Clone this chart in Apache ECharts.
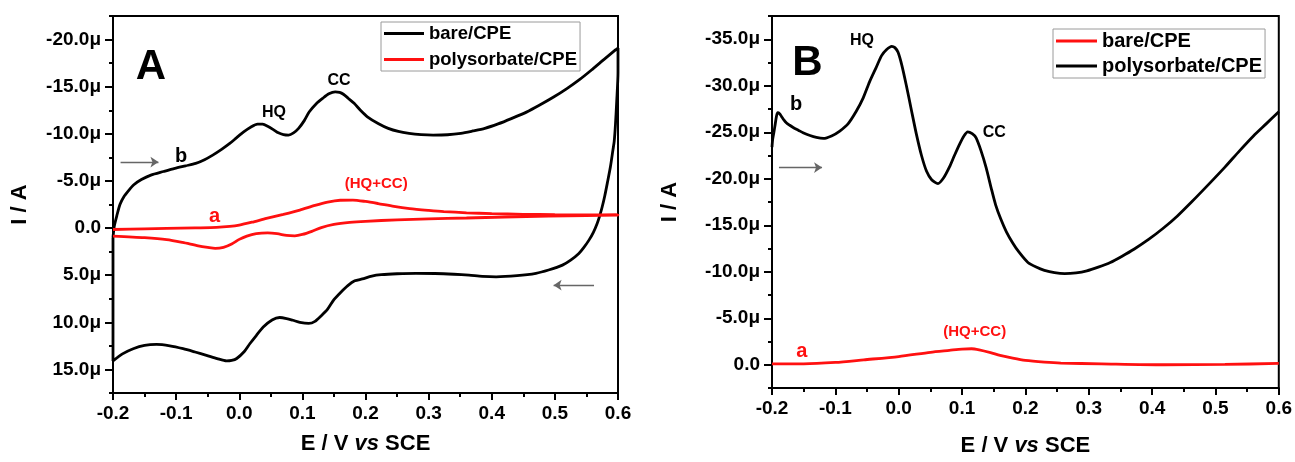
<!DOCTYPE html>
<html>
<head>
<meta charset="utf-8">
<script src="https://cdn.jsdelivr.net/npm/echarts@6/dist/echarts.min.js"></script>
<style>html,body{margin:0;padding:0;background:#fff;}#c{width:1295px;height:462px;}</style>
</head>
<body>
<div id="c"></div>
<script>
// ---------- DATA (E in V, I in µA) ----------
const xTicks = [-0.2, -0.1, 0.0, 0.1, 0.2, 0.3, 0.4, 0.5, 0.6];
const yTicksA = [-20, -15, -10, -5, 0, 5, 10, 15];
const yTicksB = [-35, -30, -25, -20, -15, -10, -5, 0];
const yMinorA = [-22.5, -17.5, -12.5, -7.5, -2.5, 2.5, 7.5, 12.5, 17.5];
const yMinorB = [-37.5, -32.5, -27.5, -22.5, -17.5, -12.5, -7.5, -2.5, 2.5];

// Panel A, bare/CPE (black) cyclic voltammogram: forward then reverse sweep
const bareA_forward = [[-0.2,1.0],[-0.198,-0.2],[-0.194,-1.3],[-0.189,-2.5],[-0.183,-3.3],[-0.175,-4.0],[-0.167,-4.6],[-0.155,-5.15],[-0.14,-5.62],[-0.12,-6.0],[-0.102,-6.33],[-0.085,-6.6],[-0.069,-6.86],[-0.055,-7.25],[-0.042,-7.74],[-0.028,-8.35],[-0.015,-8.98],[-0.004,-9.6],[0.007,-10.2],[0.018,-10.7],[0.029,-11.03],[0.037,-11.02],[0.045,-10.8],[0.054,-10.45],[0.062,-10.1],[0.07,-9.92],[0.078,-9.87],[0.086,-10.1],[0.094,-10.58],[0.103,-11.4],[0.111,-12.34],[0.122,-13.2],[0.132,-13.76],[0.142,-14.25],[0.152,-14.46],[0.159,-14.4],[0.165,-14.2],[0.173,-13.75],[0.182,-13.23],[0.192,-12.5],[0.203,-11.81],[0.22,-11.1],[0.236,-10.58],[0.252,-10.25],[0.269,-10.05],[0.288,-9.92],[0.307,-9.87],[0.33,-9.9],[0.351,-10.05],[0.37,-10.3],[0.389,-10.58],[0.41,-11.05],[0.432,-11.64],[0.455,-12.3],[0.476,-13.05],[0.498,-13.9],[0.519,-14.8],[0.54,-15.8],[0.558,-16.77],[0.578,-17.9],[0.596,-18.9],[0.6,-19.1]];
const bareA_reverse = [[0.6,-16.5],[0.598,-13.5],[0.596,-11.0],[0.594,-9.2],[0.592,-8.3],[0.588,-6.5],[0.583,-4.74],[0.579,-3.4],[0.575,-2.26],[0.571,-1.3],[0.567,-0.49],[0.561,0.45],[0.554,1.28],[0.546,2.05],[0.538,2.69],[0.525,3.4],[0.512,3.93],[0.49,4.45],[0.47,4.8],[0.44,5.05],[0.407,5.17],[0.385,5.12],[0.364,5.0],[0.34,4.9],[0.31,4.82],[0.28,4.8],[0.25,4.85],[0.225,4.95],[0.21,5.1],[0.195,5.4],[0.183,5.6],[0.172,6.1],[0.161,6.8],[0.15,7.6],[0.14,8.6],[0.13,9.3],[0.12,9.9],[0.11,10.12],[0.096,10.0],[0.085,9.78],[0.075,9.6],[0.064,9.49],[0.052,9.75],[0.038,10.5],[0.027,11.4],[0.017,12.25],[0.008,13.1],[-0.004,13.84],[-0.012,14.05],[-0.02,14.1],[-0.035,13.85],[-0.052,13.5],[-0.07,13.15],[-0.089,12.8],[-0.11,12.5],[-0.131,12.35],[-0.15,12.45],[-0.168,12.8],[-0.185,13.35],[-0.2,14.1],[-0.2,1.0]];

// Panel A, polysorbate/CPE (red)
const polyA_forward = [[-0.2,0.15],[-0.15,0.08],[-0.115,0.04],[-0.07,-0.02],[-0.036,-0.07],[-0.015,-0.17],[0.0,-0.31],[0.02,-0.62],[0.043,-1.02],[0.07,-1.45],[0.096,-1.9],[0.12,-2.4],[0.14,-2.75],[0.16,-2.95],[0.18,-2.97],[0.2,-2.82],[0.22,-2.6],[0.245,-2.3],[0.27,-2.07],[0.3,-1.88],[0.324,-1.75],[0.36,-1.62],[0.4,-1.53],[0.45,-1.46],[0.5,-1.42],[0.55,-1.4],[0.6,-1.38]];
const polyA_reverse = [[0.6,-1.38],[0.55,-1.33],[0.49,-1.27],[0.42,-1.17],[0.36,-1.07],[0.3,-0.97],[0.25,-0.87],[0.2,-0.72],[0.175,-0.6],[0.15,-0.38],[0.13,-0.05],[0.115,0.35],[0.1,0.68],[0.088,0.82],[0.075,0.78],[0.06,0.6],[0.045,0.52],[0.027,0.6],[0.012,0.85],[0.0,1.2],[-0.012,1.7],[-0.025,2.05],[-0.038,2.16],[-0.05,2.05],[-0.065,1.88],[-0.09,1.52],[-0.115,1.22],[-0.15,1.02],[-0.2,0.85]];

// Panel B, polysorbate/CPE (black)
const polyB = [[-0.2,-23.4],[-0.199,-24.2],[-0.197,-25.0],[-0.195,-25.83],[-0.193,-26.7],[-0.191,-27.1],[-0.188,-27.0],[-0.185,-26.7],[-0.181,-26.3],[-0.177,-26.0],[-0.172,-25.75],[-0.166,-25.48],[-0.158,-25.2],[-0.151,-24.95],[-0.14,-24.65],[-0.13,-24.45],[-0.119,-24.34],[-0.106,-24.6],[-0.093,-25.13],[-0.08,-25.9],[-0.067,-27.25],[-0.056,-28.7],[-0.046,-30.42],[-0.036,-31.9],[-0.027,-33.24],[-0.019,-33.9],[-0.011,-34.24],[-0.006,-34.1],[-0.001,-33.6],[0.005,-32.2],[0.012,-30.06],[0.02,-27.4],[0.028,-24.77],[0.036,-22.5],[0.044,-20.8],[0.052,-19.9],[0.062,-19.47],[0.071,-20.1],[0.08,-21.24],[0.088,-22.5],[0.096,-23.7],[0.103,-24.6],[0.109,-25.05],[0.116,-24.85],[0.122,-24.42],[0.13,-23.0],[0.138,-21.2],[0.146,-19.0],[0.153,-17.2],[0.161,-15.7],[0.17,-14.3],[0.18,-13.1],[0.19,-12.1],[0.204,-11.0],[0.217,-10.5],[0.23,-10.15],[0.246,-9.9],[0.262,-9.8],[0.28,-9.88],[0.297,-10.1],[0.315,-10.5],[0.334,-11.0],[0.352,-11.65],[0.372,-12.45],[0.395,-13.5],[0.418,-14.7],[0.44,-16.0],[0.463,-17.55],[0.49,-19.45],[0.515,-21.25],[0.538,-23.0],[0.56,-24.6],[0.58,-25.9],[0.6,-27.2]];
// Panel B, bare/CPE (red)
const bareB = [[-0.2,-0.1],[-0.15,-0.1],[-0.1,-0.25],[-0.055,-0.53],[0.0,-0.88],[0.05,-1.34],[0.08,-1.55],[0.1,-1.69],[0.115,-1.72],[0.127,-1.6],[0.145,-1.3],[0.16,-1.0],[0.18,-0.7],[0.2,-0.46],[0.23,-0.28],[0.256,-0.18],[0.32,-0.1],[0.418,0.0],[0.515,-0.03],[0.6,-0.15]];

// Annotation anchors [E, I, text]
const notesA = [[0.055,-12.3,'HQ'],[0.158,-15.6,'CC'],[-0.092,-7.6,'b'],[0.217,-4.67,'(HQ+CC)'],[-0.039,-1.2,'a'],[-0.14,-17.0,'A']];
const notesB = [[-0.058,-34.9,'HQ'],[0.151,-24.95,'CC'],[-0.162,-28.0,'b'],[0.12,-3.55,'(HQ+CC)'],[-0.153,-1.4,'a'],[-0.144,-32.4,'B']];
const arrowsA = [[[-0.188,-7.0],[-0.128,-7.0]],[[0.562,6.06],[0.498,6.06]]];
const arrowsB = [[[-0.189,-21.2],[-0.121,-21.2]]];

// ---------- CHART ----------
const FONT = "'Liberation Sans', Arial, sans-serif";
const RED = '#ff1010';
function fmtX(v){ return Math.abs(v) < 1e-9 ? '0.0' : v.toFixed(1); }
function fmtY(v){ return Math.abs(v) < 1e-9 ? '0.0' : v.toFixed(1) + 'μ'; }

function xAxisFor(gi){
  return {
    type:'value', gridIndex:gi, min:-0.2, max:0.6, interval:0.1,
    axisLine:{show:true, onZero:false, lineStyle:{color:'#000', width:2}},
    axisTick:{show:true, inside:false, length:7, lineStyle:{color:'#000', width:2}},
    minorTick:{show:true, splitNumber:2, length:4, lineStyle:{color:'#000', width:2}},
    splitLine:{show:false}, minorSplitLine:{show:false},
    axisLabel:{formatter:fmtX, margin:11, fontSize:19, fontWeight:'bold', color:'#000', fontFamily:FONT},
    name:'E / V {i|vs} SCE', nameLocation:'middle', nameGap: gi===0 ? 40 : 47,
    nameTextStyle:{fontSize:22, fontWeight:'bold', color:'#000', fontFamily:FONT,
      rich:{i:{fontSize:22, fontWeight:'bold', fontStyle:'italic', color:'#000', fontFamily:FONT}}}
  };
}
function yMajor(gi, min, max, ticks, gap){
  return {
    type:'value', gridIndex:gi, min:min, max:max, inverse:true, position:'left',
    axisLine:{show:true, onZero:false, lineStyle:{color:'#000', width:2}},
    axisTick:{show:true, inside:false, length:8, customValues:ticks, lineStyle:{color:'#000', width:2}},
    axisLabel:{customValues:ticks, formatter:fmtY, margin:12, fontSize:19, fontWeight:'bold', color:'#000', fontFamily:FONT},
    splitLine:{show:false},
    name:'I / A', nameLocation:'middle', nameGap:gap,
    nameTextStyle:{fontSize:22, fontWeight:'bold', color:'#000', fontFamily:FONT}
  };
}
function yMinor(gi, min, max, ticks){
  return {
    type:'value', gridIndex:gi, min:min, max:max, inverse:true, position:'left', offset:0,
    axisLine:{show:false, onZero:false},
    axisTick:{show:true, inside:false, length:4, customValues:ticks, lineStyle:{color:'#000', width:2}},
    axisLabel:{show:false}, splitLine:{show:false}
  };
}
function lineSeries(name, data, color, xi, yi){
  return {type:'line', name:name, data:data, xAxisIndex:xi, yAxisIndex:yi, color:color,
    showSymbol:false, symbol:'none', smooth:0.25, clip:true,
    lineStyle:{color:color, width:2.8}, emphasis:{disabled:true}, z:3};
}
const noteStyle = {
  'HQ':{fontSize:16, color:'#000'}, 'CC':{fontSize:16, color:'#000'},
  'b':{fontSize:20, color:'#000'}, 'a':{fontSize:20, color:RED},
  '(HQ+CC)':{fontSize:15, color:RED}, 'A':{fontSize:42, color:'#000'}, 'B':{fontSize:42, color:'#000'}
};
function noteSeries(notes, arrows, xi, yi){
  return {
    type:'scatter', xAxisIndex:xi, yAxisIndex:yi, symbolSize:0, silent:true, z:5,
    itemStyle:{opacity:1},
    data: notes.map(n => ({value:[n[0], n[1]], name:n[2],
      label:{show:true, position:'inside', formatter:n[2], fontWeight:'bold', fontFamily:FONT, opacity:1,
        fontSize:noteStyle[n[2]].fontSize, color:noteStyle[n[2]].color}})),
    markLine:{silent:true, symbol:['none','arrow'], symbolSize:8, animation:false,
      label:{show:false}, lineStyle:{color:'#666', width:1.3, type:'solid'},
      emphasis:{disabled:true},
      data: arrows.map(a => [{coord:a[0]}, {coord:a[1]}])}
  };
}
function legendFor(prefix, names, left, top, fs, iw, lh, gap){
  return {
    orient:'vertical', left:left, top:top, icon:'rect', itemWidth:iw, itemHeight:3, itemGap:gap, itemTextGap:5,
    padding:[2,3,2,3], borderColor:'#9a9a9a', borderWidth:1, backgroundColor:'#fff',
    selectedMode:false, data:names.map(n => prefix + n),
    formatter: n => n.slice(prefix.length),
    textStyle:{fontSize:fs, fontWeight:'bold', color:'#000', fontFamily:FONT, lineHeight:lh}
  };
}

const chart = echarts.init(document.getElementById('c'), null, {renderer:'canvas'});
chart.setOption({
  animation:false, backgroundColor:'#fff',
  textStyle:{fontFamily:FONT},
  grid:[
    {left:113, top:16, width:505, height:377, show:true, borderColor:'#000', borderWidth:2, backgroundColor:'transparent'},
    {left:772, top:16, width:508, height:378, show:true, borderColor:'#000', borderWidth:2, backgroundColor:'transparent'}
  ],
  xAxis:[xAxisFor(0), xAxisFor(1)],
  yAxis:[
    yMajor(0, -22.5, 17.5, yTicksA, 82), yMinor(0, -22.5, 17.5, yMinorA),
    yMajor(1, -37.5, 2.5, yTicksB, 91), yMinor(1, -37.5, 2.5, yMinorB)
  ],
  legend:[
    legendFor('A:', ['bare/CPE','polysorbate/CPE'], 381, 22, 18.5, 40, 19, 7),
    legendFor('B:', ['bare/CPE','polysorbate/CPE'], 1053, 29, 20, 41, 20, 5)
  ],
  series:[
    lineSeries('A:bare/CPE', bareA_forward.concat(bareA_reverse), '#000', 0, 0),
    lineSeries('A:polysorbate/CPE', polyA_forward.concat(polyA_reverse), RED, 0, 0),
    noteSeries(notesA, arrowsA, 0, 0),
    lineSeries('B:bare/CPE', bareB, RED, 1, 2),
    lineSeries('B:polysorbate/CPE', polyB, '#000', 1, 2),
    noteSeries(notesB, arrowsB, 1, 2)
  ]
});
</script>
</body>
</html>
